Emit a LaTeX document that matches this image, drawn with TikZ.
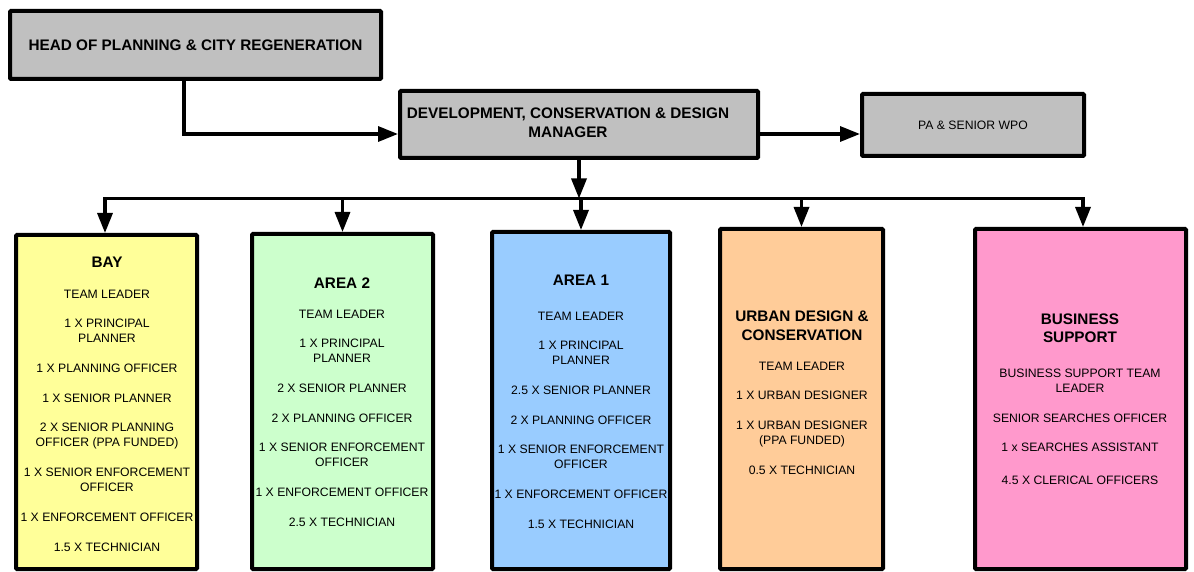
\documentclass[tikz,border=0pt]{standalone}
\usepackage{fontspec}
\setmainfont{Liberation Sans}
\usetikzlibrary{arrows.meta,calc}
\definecolor{boxgray}{HTML}{C0C0C0}
\definecolor{bayfill}{HTML}{FFFF99}
\definecolor{areatwofill}{HTML}{CCFFCC}
\definecolor{areaonefill}{HTML}{99CCFF}
\definecolor{urbanfill}{HTML}{FFCC99}
\definecolor{bizfill}{HTML}{FF99CC}
\begin{document}
\begin{tikzpicture}[x=1pt,y=-1pt,
  box/.style={draw=black,line width=4pt,inner sep=0pt,rectangle,rounded corners=1pt},
  conn/.style={line width=3.3pt},
  arr/.style={conn,-{Triangle[length=20pt,width=15pt]}},
  lbl/.style={inner sep=0pt,align=center,font=\fontsize{12.2}{15}\selectfont,anchor=north},
  ttl/.style={inner sep=0pt,align=center,font=\fontsize{15.3}{18.5}\selectfont\bfseries,anchor=north},
  boldtext/.style={font=\fontsize{15.3}{19}\selectfont\bfseries},
  regtext/.style={font=\fontsize{12.2}{15}\selectfont}]
\useasboundingbox (0,0) rectangle (1194,572);

% top boxes
\node[box,fill=boxgray,minimum width=371pt,minimum height=68pt,boldtext] (head) at (195.5,45) {HEAD OF PLANNING \& CITY REGENERATION};
\node[box,fill=boxgray,minimum width=358pt,minimum height=67pt] (dev) at (579,124.5) {};
\node[inner sep=0pt,align=center,boldtext] (devt) at (568,122.5) {DEVELOPMENT, CONSERVATION \& DESIGN\\MANAGER};
\node[box,fill=boxgray,minimum width=222pt,minimum height=62pt,regtext] (pa) at (973,125) {PA \& SENIOR WPO};

% team boxes
\node[box,fill=bayfill,minimum width=181pt,minimum height=334pt] (bay) at (106.5,402) {};
\node[box,fill=areatwofill,minimum width=181pt,minimum height=335pt] (area2) at (342.5,401.5) {};
\node[box,fill=areaonefill,minimum width=178pt,minimum height=337pt] (area1) at (581,400.5) {};
\node[box,fill=urbanfill,minimum width=163pt,minimum height=340pt] (urban) at (801.5,399) {};
\node[box,fill=bizfill,minimum width=211pt,minimum height=340pt] (biz) at (1080.5,399) {};

% box texts
\node[ttl] (bayt) at (107,256.5) {BAY};
\node[lbl] (bayl) at (107,289.6) {TEAM LEADER\\[14.7pt]1 X PRINCIPAL\\PLANNER\\[14.7pt]1 X PLANNING OFFICER\\[14.7pt]1 X SENIOR PLANNER\\[14.7pt]2 X SENIOR PLANNING\\OFFICER (PPA FUNDED)\\[14.7pt]1 X SENIOR ENFORCEMENT\\OFFICER\\[14.7pt]1 X ENFORCEMENT OFFICER\\[14.7pt]1.5 X TECHNICIAN};

\node[ttl] (area2t) at (342,277.5) {AREA 2};
\node[lbl] (area2l) at (342,309.6) {TEAM LEADER\\[14.7pt]1 X PRINCIPAL\\PLANNER\\[14.7pt]2 X SENIOR PLANNER\\[14.7pt]2 X PLANNING OFFICER\\[14.7pt]1 X SENIOR ENFORCEMENT\\OFFICER\\[14.7pt]1 X ENFORCEMENT OFFICER\\[14.7pt]2.5 X TECHNICIAN};

\node[ttl] (area1t) at (581,274.5) {AREA 1};
\node[lbl] (area1l) at (581,311.6) {TEAM LEADER\\[14.7pt]1 X PRINCIPAL\\PLANNER\\[14.7pt]2.5 X SENIOR PLANNER\\[14.7pt]2 X PLANNING OFFICER\\[14.7pt]1 X SENIOR ENFORCEMENT\\OFFICER\\[14.7pt]1 X ENFORCEMENT OFFICER\\[14.7pt]1.5 X TECHNICIAN};

\node[ttl] (urbant) at (802,310.8) {URBAN DESIGN \&\\CONSERVATION};
\node[lbl] (urbanl) at (802,361.6) {TEAM LEADER\\[14.7pt]1 X URBAN DESIGNER\\[14.7pt]1 X URBAN DESIGNER\\(PPA FUNDED)\\[14.7pt]0.5 X TECHNICIAN};

\node[ttl] (bizt) at (1080,313.5) {BUSINESS\\SUPPORT};
\node[lbl] (bizl) at (1080,368.6) {BUSINESS SUPPORT TEAM\\LEADER\\[14.7pt]SENIOR SEARCHES OFFICER\\[14.7pt]1 x SEARCHES ASSISTANT\\[17.5pt]4.5 X CLERICAL OFFICERS};

% connectors
\coordinate (bus) at (580,198.5);
\draw[arr] ([xshift=-11.5pt]head.south) |- ([yshift=-9.5pt]dev.west);
\draw[arr] ([yshift=-9.5pt]dev.east) -- ([yshift=-9.5pt]dev.east -| pa.west);
\draw[arr] (dev.south) -- (dev.south |- bus);
\draw[arr] (dev.south |- bus) -| ([xshift=-1.5pt]bay.north);
\draw[arr] (dev.south |- bus) -| ([xshift=2.5pt]biz.north);
\draw[arr] (area2.north |- bus) -- (area2.north);
\draw[arr] (area1.north |- bus) -- (area1.north);
\draw[arr] (urban.north |- bus) -- (urban.north);
\end{tikzpicture}
\end{document}
